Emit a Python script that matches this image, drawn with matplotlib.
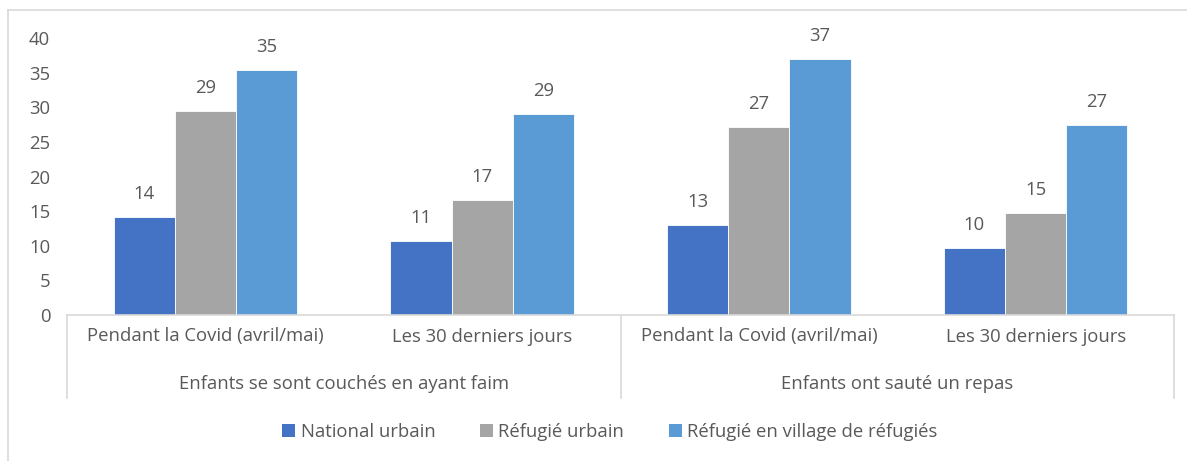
import matplotlib.pyplot as plt
from matplotlib.lines import Line2D
from matplotlib.patches import Patch

plt.rcParams['font.family'] = ['Open Sans', 'DejaVu Sans']

CATEGORIES = ["Pendant la Covid (avril/mai)", "Les 30 derniers jours",
              "Pendant la Covid (avril/mai)", "Les 30 derniers jours"]
GROUPS = ["Enfants se sont couchés en ayant faim", "Enfants ont sauté un repas"]
SERIES = ["National urbain", "Réfugié urbain", "Réfugié en village de réfugiés"]
COLORS = ["#4472C4", "#A5A5A5", "#5B9BD5"]

# bar heights and the rounded labels shown above them
national = [14.2, 10.7, 13.0, 9.7]
refugie_urbain = [29.5, 16.6, 27.2, 14.7]
refugie_village = [35.4, 29.0, 37.0, 27.5]
labels_national = [14, 11, 13, 10]
labels_urbain = [29, 17, 27, 15]
labels_village = [35, 29, 37, 27]

TEXT = "#595959"
GRID = "#D9D9D9"
FS = 13.3

fig = plt.figure(figsize=(11.87, 4.61), dpi=100)
W, H = 1187, 461
ax = fig.add_axes([67 / W, 1 - 315 / H, (1174 - 67) / W, (315 - 38) / H])

values = [national, refugie_urbain, refugie_village]
labels = [labels_national, labels_urbain, labels_village]
bw = 0.221
centers = [i + 0.5 for i in range(len(CATEGORIES))]
for k, (vals, labs, col) in enumerate(zip(values, labels, COLORS)):
    xs = [c + (k - 1) * bw for c in centers]
    ax.bar(xs, vals, width=bw, color=col, edgecolor="white", linewidth=0.6)
    for x, v, lab in zip(xs, vals, labs):
        ax.text(x, v + 2.0, str(lab), ha="center", va="bottom",
                fontsize=FS, color=TEXT)

ax.set_xlim(0, 4)
ax.set_ylim(0, 40)
ax.set_yticks(range(0, 41, 5))
ax.tick_params(axis="y", length=0, pad=12, labelsize=FS, labelcolor=TEXT)
ax.set_xticks(centers)
ax.set_xticklabels(CATEGORIES)
ax.tick_params(axis="x", length=0, pad=9, labelsize=FS, labelcolor=TEXT)
for s in ["top", "right", "left"]:
    ax.spines[s].set_visible(False)
ax.spines["bottom"].set_color(GRID)
ax.spines["bottom"].set_linewidth(1.2)

tr = ax.get_xaxis_transform()
sep_bottom = -(398 - 315) / (315 - 38)
for x in [0, 2, 4]:
    ax.add_line(Line2D([x, x], [0, sep_bottom], transform=tr, color=GRID,
                       linewidth=1.2, clip_on=False))
for g, name in enumerate(GROUPS):
    ax.text(2 * g + 1, -(384 - 315) / (315 - 38), name, transform=tr,
            ha="center", va="center", fontsize=FS, color=TEXT)

# outer chart border (only left and top edges visible in the crop)
fig.add_artist(Line2D([8 / W, 8 / W], [0, 1 - 10 / H], color=GRID, linewidth=1.2))
fig.add_artist(Line2D([8 / W, 1], [1 - 10 / H, 1 - 10 / H], color=GRID, linewidth=1.2))

handles = [Patch(facecolor=c, label=s) for c, s in zip(COLORS, SERIES)]
fig.legend(handles=handles, loc="center", bbox_to_anchor=(610 / W, 1 - 432 / H),
           ncol=3, frameon=False, fontsize=FS, labelcolor=TEXT,
           handlelength=0.7, handleheight=0.7, handletextpad=0.3, columnspacing=2.4)

fig.savefig("out.png", dpi=100)
